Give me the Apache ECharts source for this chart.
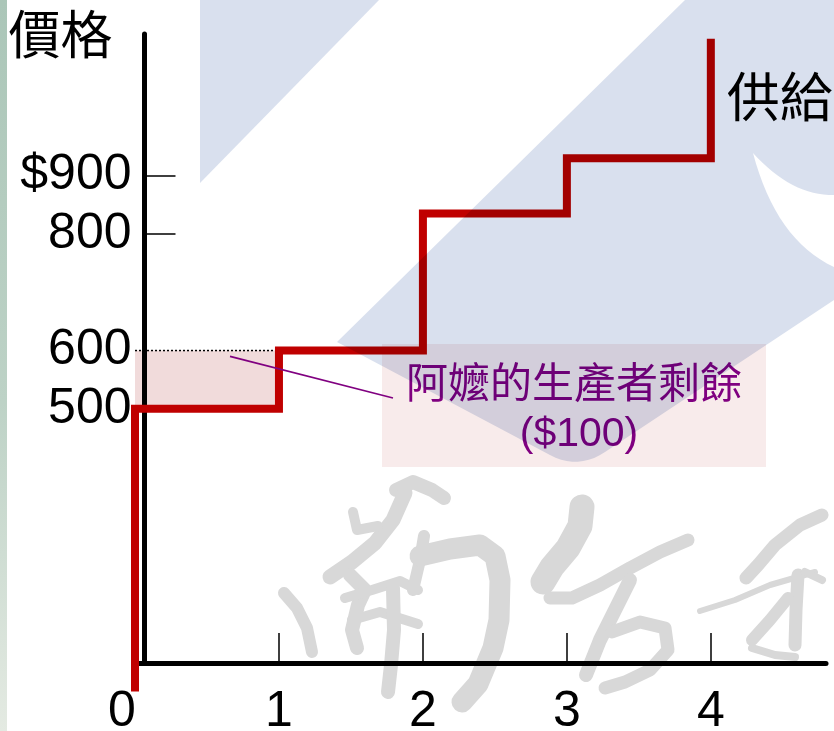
<!DOCTYPE html>
<html>
<head>
<meta charset="utf-8">
<script src="https://cdn.jsdelivr.net/npm/echarts@6/dist/echarts.min.js"></script>
<style>
  html, body { margin: 0; padding: 0; background: #ffffff; }
  #chart { width: 834px; height: 731px; }
</style>
</head>
<body>
<div id="chart"></div>
<script>
// Supply schedule: cumulative quantity and the price where each step sits
const quantities = [0, 1, 2, 3, 4, 4];
const prices = [15, 500, 600, 835, 930, 1135];

// Tick marks and labels on the price axis
const priceTicks = [800, 900];
const priceLabels = [500, 600, 800, 900];

// Tick marks and labels on the quantity axis
const qtyTicks = [1, 2, 3, 4];
const qtyLabels = [0, 1, 2, 3, 4];

// Producer surplus block: [quantity from, quantity to, price from, price to]
const surplus = [0, 1, 500, 600];
const surplusText = ['阿嬤的生產者剩餘', '($100)'];

const NUM_FONT = '"Liberation Sans", Arial, sans-serif';
const CJK_FONT = '"Noto Sans CJK TC", "Noto Sans CJK SC", sans-serif';

const supplyData = quantities.map((q, i) => [q, prices[i]]);

// sample a quadratic bezier into polygon points (end point included)
function quad(p0, c, p1, n) {
  const pts = [];
  for (let i = 1; i <= n; i++) {
    const t = i / n, a = (1 - t) * (1 - t), b = 2 * (1 - t) * t, d = t * t;
    pts.push([a * p0[0] + b * c[0] + d * p1[0], a * p0[1] + b * c[1] + d * p1[1]]);
  }
  return pts;
}

// light blue backdrop shapes, multiplied over the drawing
const bandPoints = [].concat(
  [[685, 0], [834, 0], [834, 195]],
  quad([834, 195], [792, 196], [753, 153], 16),
  quad([753, 153], [776, 240], [834, 267], 16),
  [[834, 300], [605, 452]],
  quad([605, 452], [578, 470], [550, 455], 10),
  [[337, 342]]
);

// brush strokes of the grey seal characters
const strokes = [
  { w: 12, p: [[284, 593], [297, 608], [307, 628], [312, 652]] },
  { w: 14, p: [[396, 490], [413, 482], [432, 490], [444, 498]] },
  { w: 15, p: [[405, 493], [393, 520], [375, 543], [352, 562], [330, 577]] },
  { w: 10, p: [[353, 512], [357, 530], [378, 526]] },
  { w: 14, p: [[350, 575], [365, 590], [358, 605], [352, 630], [357, 648]] },
  { w: 10, p: [[345, 598], [372, 590], [400, 581], [418, 590]] },
  { w: 10, p: [[352, 620], [380, 612], [418, 624]] },
  { w: 14, p: [[393, 588], [394, 630], [391, 665], [388, 692]] },
  { w: 12, p: [[424, 536], [420, 560], [413, 590]] },
  { w: 21, p: [[420, 556], [450, 549], [480, 545], [495, 556], [500, 580], [499, 620], [493, 648], [478, 684], [462, 702]] },
  { w: 25, p: [[582, 507], [580, 526], [568, 548], [552, 567], [543, 582]] },
  { w: 13, p: [[550, 598], [572, 598], [600, 585], [630, 568], [660, 552], [688, 540]] },
  { w: 14, p: [[630, 580], [615, 610], [600, 640], [586, 675]] },
  { w: 13, p: [[612, 632], [640, 622], [665, 628], [668, 650], [650, 670], [625, 682], [605, 688]] },
  { w: 13, p: [[822, 515], [800, 525], [775, 545], [758, 565], [746, 578]] },
  { w: 6,  p: [[700, 611], [735, 600], [770, 585], [815, 572]] },
  { w: 13, p: [[798, 575], [796, 610], [795, 645]] },
  { w: 12, p: [[788, 598], [770, 620], [752, 640]] },
  { w: 8,  p: [[752, 648], [775, 655], [795, 657]] },
  { w: 8,  p: [[805, 572], [822, 580]] }
];

const chart = echarts.init(document.getElementById('chart'), null, { renderer: 'canvas' });

const option = {
  animation: false,
  backgroundColor: '#ffffff',
  grid: { left: 135, right: 8, top: 34, bottom: 68, containLabel: false, outerBoundsMode: 'none' },
  xAxis: {
    type: 'value',
    min: 0,
    max: 4.8,
    z: 1,
    axisLine: { onZero: false, lineStyle: { color: '#000', width: 5 } },
    axisTick: { customValues: qtyTicks, inside: true, length: 30, lineStyle: { color: '#000', width: 1.5 } },
    axisLabel: {
      customValues: qtyLabels,
      margin: 24,
      fontSize: 50,
      fontFamily: NUM_FONT,
      color: '#000',
      formatter: v => (v === 0 ? '{o|0}' : String(v)),
      rich: { o: { fontSize: 50, fontFamily: NUM_FONT, color: '#000', padding: [0, 26, 0, 0] } }
    },
    splitLine: { show: false }
  },
  yAxis: {
    type: 'value',
    min: 64,
    max: 1143,
    offset: -9.5,
    z: 1,
    name: '價格',
    nameLocation: 'end',
    nameGap: 0,
    nameTextStyle: {
      fontSize: 52, fontFamily: CJK_FONT, color: '#000',
      align: 'right', verticalAlign: 'middle', padding: [0, 32, 0, 0]
    },
    axisLine: { onZero: false, lineStyle: { color: '#000', width: 5 } },
    axisTick: { customValues: priceTicks, inside: true, length: 31, lineStyle: { color: '#000', width: 1.5 } },
    axisLabel: {
      customValues: priceLabels,
      margin: 13,
      fontSize: 50,
      fontFamily: NUM_FONT,
      color: '#000',
      formatter: v => (v === 900 ? '$900' : String(v))
    },
    splitLine: { show: false }
  },
  series: [
    {
      // shaded producer surplus with the dotted price line on top
      type: 'custom',
      z: 0,
      clip: false,
      encode: { x: [0, 1], y: [2, 3] },
      data: [surplus],
      renderItem: (params, api) => {
        const tl = api.coord([api.value(0), api.value(3)]);
        const br = api.coord([api.value(1), api.value(2)]);
        return {
          type: 'group',
          children: [
            { type: 'rect', shape: { x: tl[0], y: tl[1], width: br[0] - tl[0], height: br[1] - tl[1] },
              style: { fill: '#f1dbdb' } },
            { type: 'line', shape: { x1: tl[0], y1: tl[1], x2: br[0], y2: tl[1] },
              style: { stroke: '#000', lineWidth: 1.5, lineDash: [2, 2] } }
          ]
        };
      }
    },
    {
      name: '供給',
      type: 'line',
      z: 3,
      clip: false,
      step: 'start',
      symbol: 'none',
      data: supplyData,
      lineStyle: { color: '#c00000', width: 8, join: 'miter', cap: 'butt' },
      endLabel: {
        show: true,
        formatter: '供給',
        fontSize: 53,
        fontFamily: CJK_FONT,
        color: '#000',
        distance: 5,
        offset: [11, 58]
      }
    }
  ]
};

chart.setOption(option);

const tip = chart.convertToPixel({ gridIndex: 0 }, [0.66, 590]);

const graphics = [
  {
    id: 'edge', type: 'rect', z: 0, silent: true,
    shape: { x: 0, y: 0, width: 7, height: 731 },
    style: {
      fill: { type: 'linear', x: 0, y: 0, x2: 0, y2: 1,
        colorStops: [{ offset: 0, color: '#abc6b8' }, { offset: 0.55, color: '#bdd2c6' }, { offset: 1, color: '#e4eae2' }] }
    }
  },
  {
    // note box sits under the supply line
    id: 'noteBox', type: 'rect', z: 1, silent: true,
    shape: { x: 382, y: 344, width: 384, height: 123 },
    style: { fill: '#f8ebeb' }
  },
  {
    id: 'notePointer', type: 'line', z: 6, silent: true,
    shape: { x1: tip[0], y1: tip[1], x2: 393, y2: 398 },
    style: { stroke: '#800080', lineWidth: 1.6 }
  },
  {
    id: 'noteLine1', type: 'text', z: 6, silent: true, x: 574, y: 382,
    style: { text: surplusText[0], fontSize: 42, fontFamily: CJK_FONT, fill: '#800080', align: 'center', verticalAlign: 'middle' }
  },
  {
    id: 'noteLine2', type: 'text', z: 6, silent: true, x: 579, y: 435,
    style: { text: surplusText[1], fontSize: 41, fontFamily: NUM_FONT, fill: '#800080', align: 'center', verticalAlign: 'middle' }
  }
];

strokes.forEach((s, i) => {
  graphics.push({
    id: 'brush' + i, type: 'polyline', z: 0, silent: true,
    shape: { points: s.p },
    style: { stroke: '#d8d8d8', lineWidth: s.w, lineCap: 'round', lineJoin: 'round', fill: null }
  });
});

graphics.push(
  {
    id: 'wedge', type: 'polygon', z: 100, silent: true,
    shape: { points: [[200, 0], [379, 0], [200, 183]] },
    style: { fill: '#d9e0ee', blend: 'multiply' }
  },
  {
    id: 'band', type: 'polygon', z: 100, silent: true,
    shape: { points: bandPoints },
    style: { fill: '#d9e0ee', blend: 'multiply' }
  }
);

chart.setOption({ graphic: graphics });
</script>
</body>
</html>
